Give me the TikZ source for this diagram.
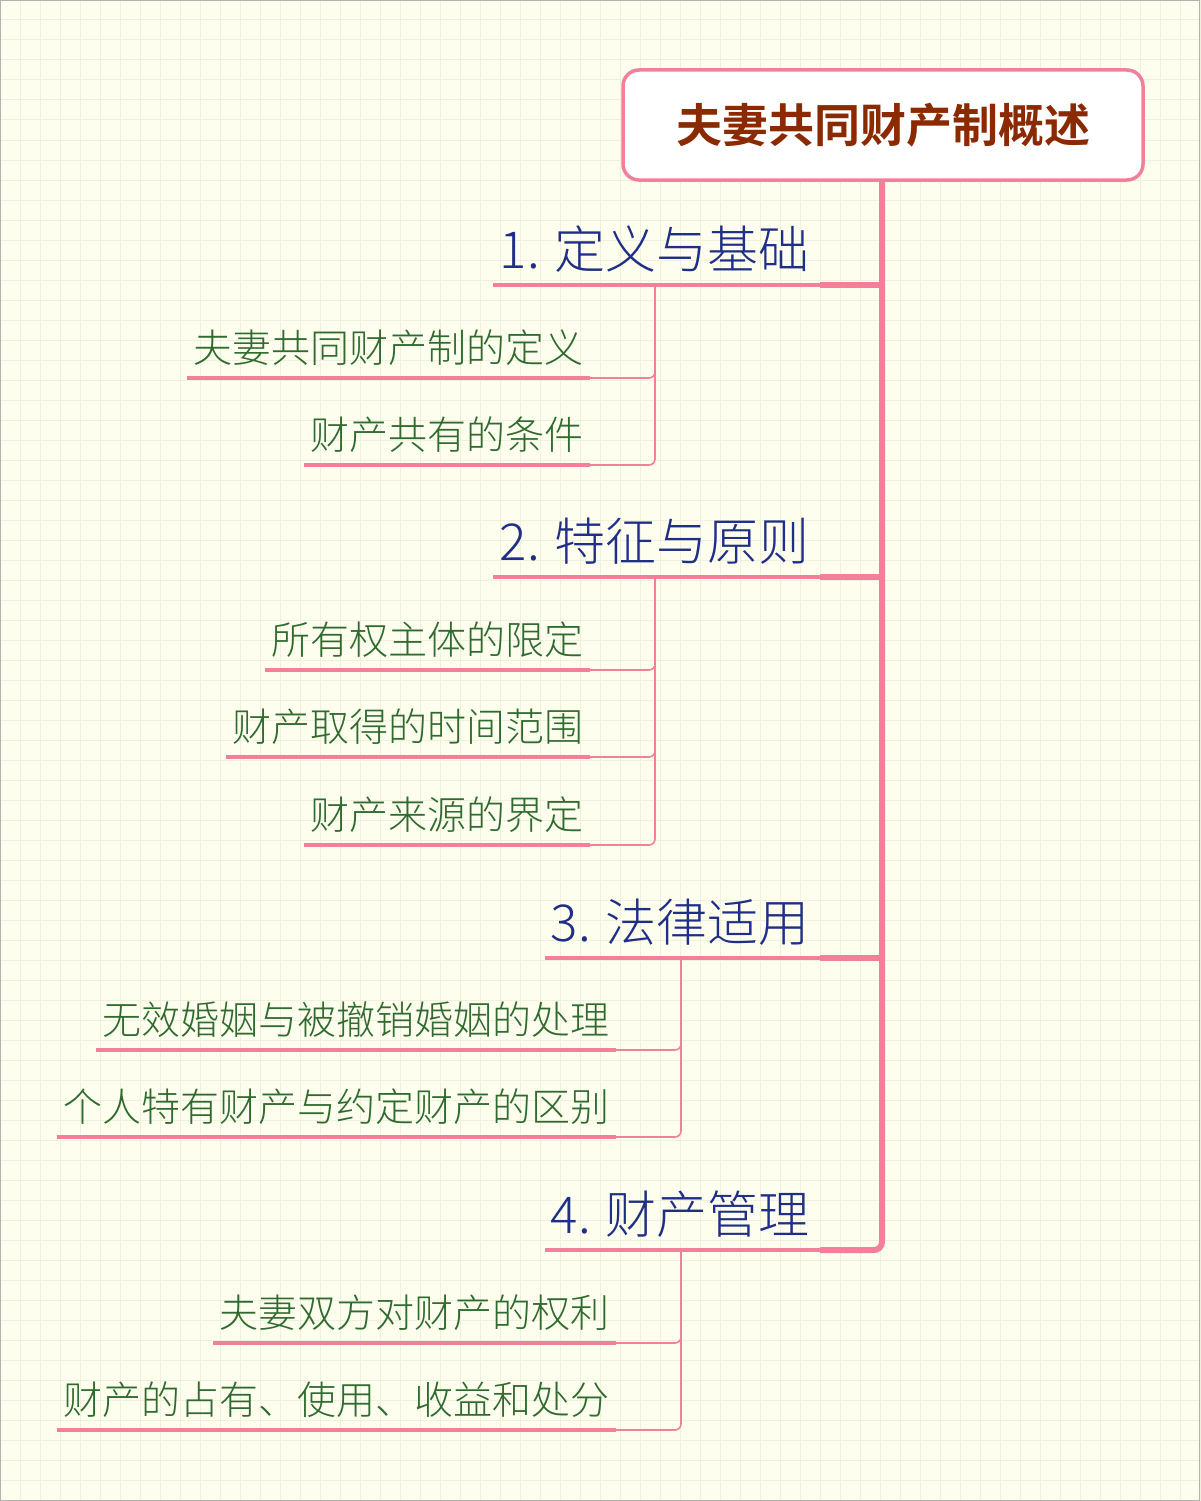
\documentclass[tikz,border=0pt]{standalone}
\usepackage{fontspec}
\newfontfamily\cjk{Noto Sans CJK SC}
\newfontfamily\cjkl{Noto Sans CJK SC Light}
\newfontfamily\cjkb{Noto Sans CJK SC Bold}
\definecolor{bg}{HTML}{FEFEEE}
\definecolor{gridc}{HTML}{EFF1DE}
\definecolor{pk}{HTML}{F2809A}
\definecolor{hd}{HTML}{1F2E86}
\definecolor{gr}{HTML}{2F6B2F}
\definecolor{rt}{HTML}{8B2A00}
\tikzset{
 hdtext/.style={anchor=base east,text=hd,font=\cjkl\fontsize{51}{51}\selectfont,inner sep=0},
 chtext/.style={anchor=base east,text=gr,font=\cjkl\fontsize{39}{39}\selectfont,inner sep=0},
 uline/.style={pk,line width=3.5pt},
 thin/.style={pk,line width=1.6pt,rounded corners=6pt},
 thick/.style={pk,line width=6pt,rounded corners=8pt}
}
\begin{document}
\begin{tikzpicture}[x=1pt,y=-1pt]
\useasboundingbox (0,0) rectangle (1200,1501);
\fill[bg] (0,0) rectangle (1200,1501);
\foreach \i in {0,20,...,1200} \draw[gridc,line width=1pt] (\i,0) -- (\i,1501);
\foreach \i in {0,20,...,1500} \draw[gridc,line width=1pt] (0,\i) -- (1200,\i);
\draw[gray!60,line width=1pt] (0.5,0.5) rectangle (1199.5,1500.5);
\node[draw=pk,line width=3.5pt,rounded corners=16pt,fill=white,minimum width=520pt,minimum height=110pt,text=rt,font=\cjkb\fontsize{46}{46}\selectfont] (root) at (883,125) {夫妻共同财产制概述};
\foreach \y/\xl/\t/\n in {285/493/{1. 定义与基础}/a,577/493/{2. 特征与原则}/b,958/545/{3. 法律适用}/c,1250/545/{4. 财产管理}/d}{
 \coordinate (\n l) at (\xl,\y);
 \coordinate (\n r) at (820,\y);
 \node[hdtext] (\n t) at (810,\y-17) {\t};
 \draw[uline] (\n l) -- (\n r);
}
\draw[thick] (root.south -| 882,0) -- (882,1250) -- (dr);
\draw[thick] (882,958) -- (cr);
\draw[thick] (882,577) -- (br);
\draw[thick] (882,285) -- (ar);
\foreach \y/\xl/\xr/\vx/\p/\t/\n in {
 378/187/590/655/ar/夫妻共同财产制的定义/a1,
 465/304/590/655/ar/财产共有的条件/a2,
 670/265/590/655/br/所有权主体的限定/b1,
 757/226/590/655/br/财产取得的时间范围/b2,
 845/304/590/655/br/财产来源的界定/b3,
 1050/96/616/681/cr/无效婚姻与被撤销婚姻的处理/c1,
 1137/57/616/681/cr/个人特有财产与约定财产的区别/c2,
 1343/213/616/681/dr/夫妻双方对财产的权利/d1,
 1430/57/616/681/dr/财产的占有、使用、收益和处分/d2}{
 \coordinate (\n l) at (\xl,\y);
 \coordinate (\n r) at (\xr,\y);
 \node[chtext] (\n t) at (\xr-6,\y-16) {\t};
 \draw[uline] (\n l) -- (\n r);
 \draw[thin] (\vx,0 |- \p) -- (\vx,\y) -- (\n r);
}
\end{tikzpicture}
\end{document}
